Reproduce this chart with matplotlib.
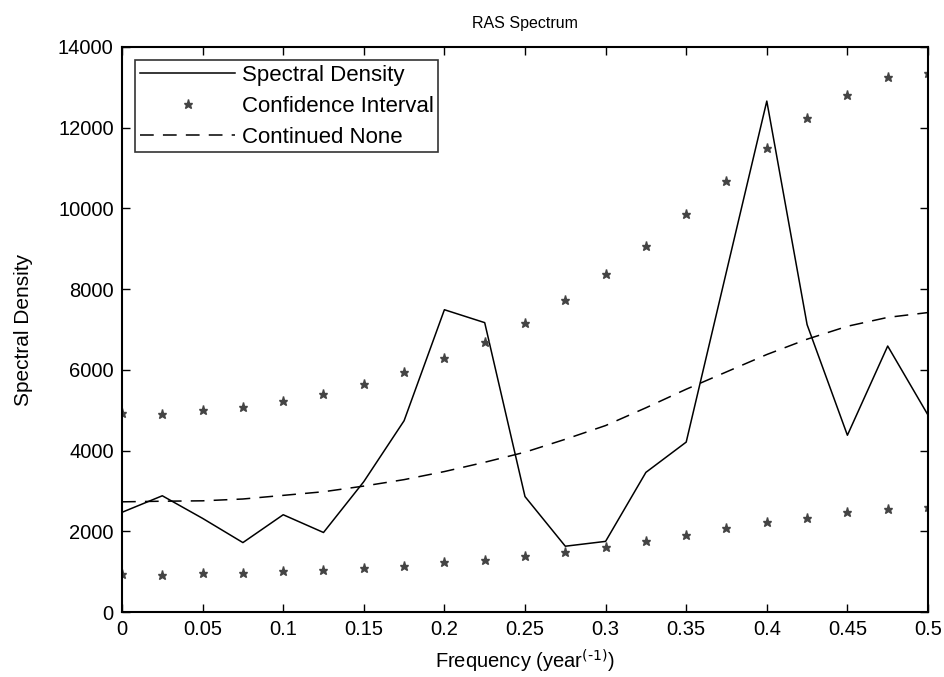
import numpy as np
import matplotlib
matplotlib.use('Agg')
import matplotlib.pyplot as plt

# Data
freq = np.arange(21) * 0.025

spectral = [2470, 2880, 2320, 1720, 2410, 1970, 3230, 4740, 7490, 7170, 2860,
            1630, 1750, 3460, 4210, 8440, 12660, 7120, 4380, 6590, 4880]

ci_upper = [4920, 4900, 5000, 5070, 5230, 5400, 5640, 5950, 6300, 6700, 7150,
            7740, 8380, 9060, 9870, 10680, 11490, 12240, 12820, 13250, 13360]

ci_lower = [940, 915, 970, 970, 1010, 1050, 1100, 1150, 1240, 1280, 1400,
            1490, 1610, 1770, 1900, 2070, 2220, 2340, 2480, 2560, 2590]

null_cont = [2730, 2745, 2755, 2800, 2890, 2980, 3120, 3280, 3480, 3710, 3960,
             4280, 4620, 5060, 5520, 5950, 6380, 6760, 7080, 7300, 7420]

plt.rcParams['font.family'] = ['Liberation Sans', 'DejaVu Sans']

fig = plt.figure(figsize=(9.44, 6.77), dpi=100)
ax = fig.add_axes([122 / 944, 65 / 677, 806 / 944, 565 / 677])

ax.plot(freq, spectral, color='black', lw=1.1, label='Spectral Density')
ax.plot(freq, ci_upper, ls='none', marker='*', ms=6.5, color='#444444',
        label='Confidence Interval')
ax.plot(freq, ci_lower, ls='none', marker='*', ms=6.5, color='#444444')
ax.plot(freq, null_cont, color='black', lw=1.1, dashes=(9, 6),
        label='Continued None')

ax.set_xlim(0, 0.5)
ax.set_ylim(0, 14000)
ax.set_xticks(np.arange(0, 0.51, 0.05))
ax.set_xticklabels(['0', '0.05', '0.1', '0.15', '0.2', '0.25', '0.3', '0.35',
                    '0.4', '0.45', '0.5'])
ax.set_yticks(np.arange(0, 14001, 2000))
ax.tick_params(direction='in', top=True, right=True, length=6, width=1,
               labelsize=14.5, pad=6)
for s in ax.spines.values():
    s.set_linewidth(1.5)

ax.set_title('RAS Spectrum', fontsize=11.5, pad=14)
ax.set_ylabel('Spectral Density', fontsize=15, labelpad=18)
ax.set_xlabel('Frequency (year$^{\\text{(-1)}}$)', fontsize=14.5, labelpad=6)

leg = ax.legend(loc='upper left', fontsize=16, frameon=True, fancybox=False,
                borderpad=0.2, labelspacing=0.45, handlelength=4.3,
                handletextpad=0.3, borderaxespad=0.6)
leg.get_frame().set_edgecolor('black')
leg.get_frame().set_linewidth(1.2)

fig.savefig('out.png', dpi=100)
